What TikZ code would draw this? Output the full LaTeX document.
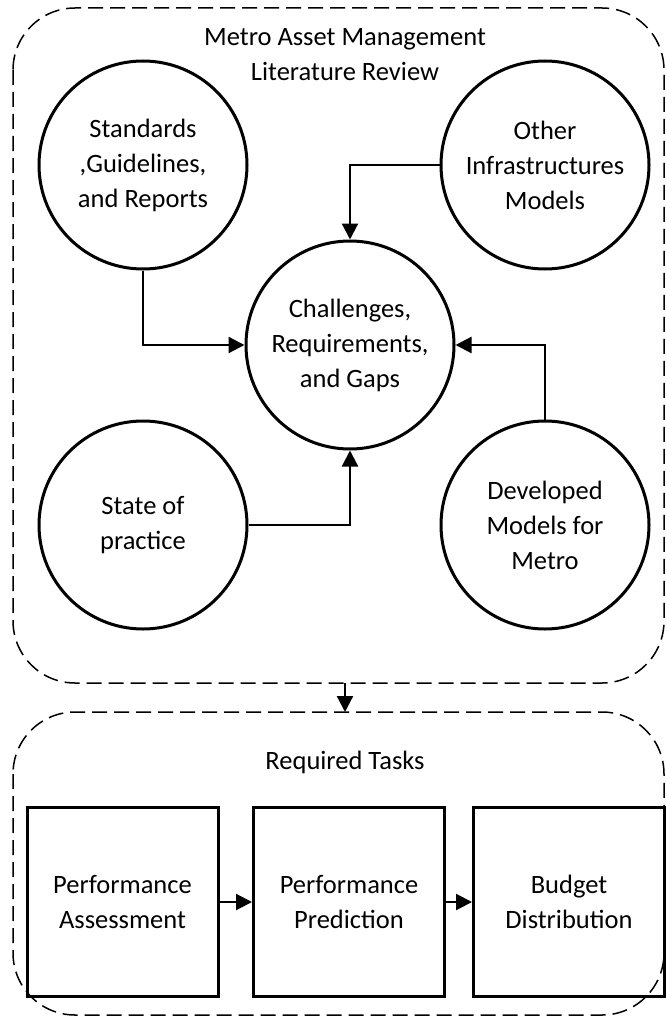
\documentclass[tikz,border=0pt]{standalone}
\usepackage{fontspec}
\setmainfont{Carlito}
\usetikzlibrary{arrows.meta}
\begin{document}
\begin{tikzpicture}[x=1pt,y=-1pt,
  txt/.style={font=\fontsize{26.5}{35}\selectfont, align=center, inner sep=0pt},
  circ/.style={txt, circle, draw, line width=3pt, minimum size=208pt},
  taskbox/.style={txt, rectangle, draw, line width=3pt, minimum width=191pt, minimum height=189pt},
  group/.style={draw, line width=1.5pt, dash pattern=on 15pt off 7pt, rounded corners=62pt},
  conn/.style={line width=2.2pt, -{Triangle[length=16pt,width=16pt]}}
]
\useasboundingbox (0,0) rectangle (666,1022);
\draw[group] (13,8) rectangle (664,683);
\draw[group] (13,712) rectangle (664,1015);
\coordinate (g1b) at (345,683);
\coordinate (g2t) at (345,712);
\node[txt] (title) at (345,55) {Metro Asset Management\\Literature Review};
\node[circ] (std) at (143,165) {Standards\\,Guidelines,\\and Reports};
\node[circ] (oth) at (545,165) {Other\\Infrastructures\\Models};
\node[circ] (chg) at (350,345) {Challenges,\\Requirements,\\and Gaps};
\node[circ] (sop) at (143,525) {State of\\practice};
\node[circ] (dev) at (545,525) {Developed\\Models for\\Metro};
\draw[conn] (std.south) |- (chg.west);
\draw[conn] (oth.west) -| (chg.north);
\draw[conn] (sop.east) -| (chg.south);
\draw[conn] (dev.north) |- (chg.east);
\draw[conn] (g1b) -- (g2t);
\node[txt] (req) at (345,762) {Required Tasks};
\node[taskbox] (pa) at (122.5,902) {Performance\\Assessment};
\node[taskbox] (pp) at (349,902) {Performance\\Prediction};
\node[taskbox] (bd) at (569,902) {Budget\\Distribution};
\draw[conn] (pa) -- (pp);
\draw[conn] (pp) -- (bd);
\end{tikzpicture}
\end{document}
